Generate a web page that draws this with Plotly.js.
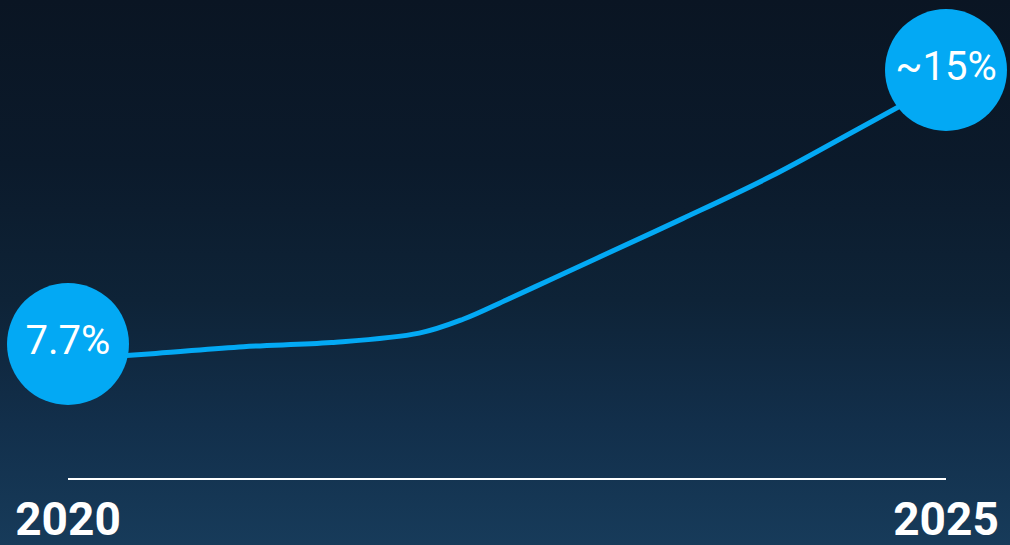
<!DOCTYPE html>
<html>
<head>
<meta charset="utf-8">
<script src="https://cdn.plot.ly/plotly-3.0.1.min.js"></script>
<style>
  html, body { margin: 0; padding: 0; width: 1010px; height: 545px; overflow: hidden; }
  body { background: linear-gradient(to bottom, #0a1523 0%, #0b1a2b 30%, #0e2337 55%, #122f4b 78%, #173b5a 100%); }
  #chart { width: 1010px; height: 545px; }
</style>
</head>
<body>
<div id="chart"></div>
<script>
// Curve of the share (%)
const lineYears  = [2020, 2020.5, 2021, 2021.5, 2022, 2022.25, 2022.5, 2022.75, 2023, 2023.5, 2024, 2024.5, 2025];
const lineValues = [7.29, 7.45, 7.63, 7.74, 7.99, 8.36, 8.88, 9.42, 9.96, 11.04, 12.16, 13.43, 14.71];

// Highlighted end points
const pointYears  = [2020, 2025];
const pointValues = [7.7, 15];
const pointLabels = ['7.7%', '~15%'];

// Axis labels
const tickYears  = [2020, 2025];
const tickLabels = ['2020', '2025'];

const blue = '#03a9f4';

const traces = [
  {
    x: lineYears, y: lineValues,
    type: 'scatter', mode: 'lines',
    line: { color: blue, width: 5, shape: 'spline', smoothing: 1 },
    hoverinfo: 'skip', cliponaxis: false
  },
  {
    x: pointYears, y: pointValues,
    type: 'scatter', mode: 'markers+text',
    marker: { size: 122, color: blue, line: { width: 0 } },
    text: pointLabels, textposition: 'middle center',
    textfont: { family: 'Roboto, sans-serif', size: 40, weight: 400, color: '#ffffff' },
    hoverinfo: 'skip', cliponaxis: false
  }
];

const layout = {
  width: 1010, height: 545,
  margin: { l: 68, r: 64, t: 0, b: 67 },
  paper_bgcolor: 'rgba(0,0,0,0)',
  plot_bgcolor: 'rgba(0,0,0,0)',
  showlegend: false,
  xaxis: {
    range: [2020, 2025],
    showgrid: false, zeroline: false,
    showline: true, linecolor: '#ffffff', linewidth: 2,
    ticks: '',
    tickmode: 'array', tickvals: tickYears, ticktext: tickLabels,
    tickfont: { family: 'Roboto, sans-serif', size: 46, weight: 700, color: '#ffffff' },
    fixedrange: true
  },
  yaxis: {
    range: [4.13, 16.865],
    visible: false, showgrid: false, zeroline: false,
    fixedrange: true
  }
};

Plotly.newPlot('chart', traces, layout, { displayModeBar: false, staticPlot: true });
</script>
</body>
</html>
